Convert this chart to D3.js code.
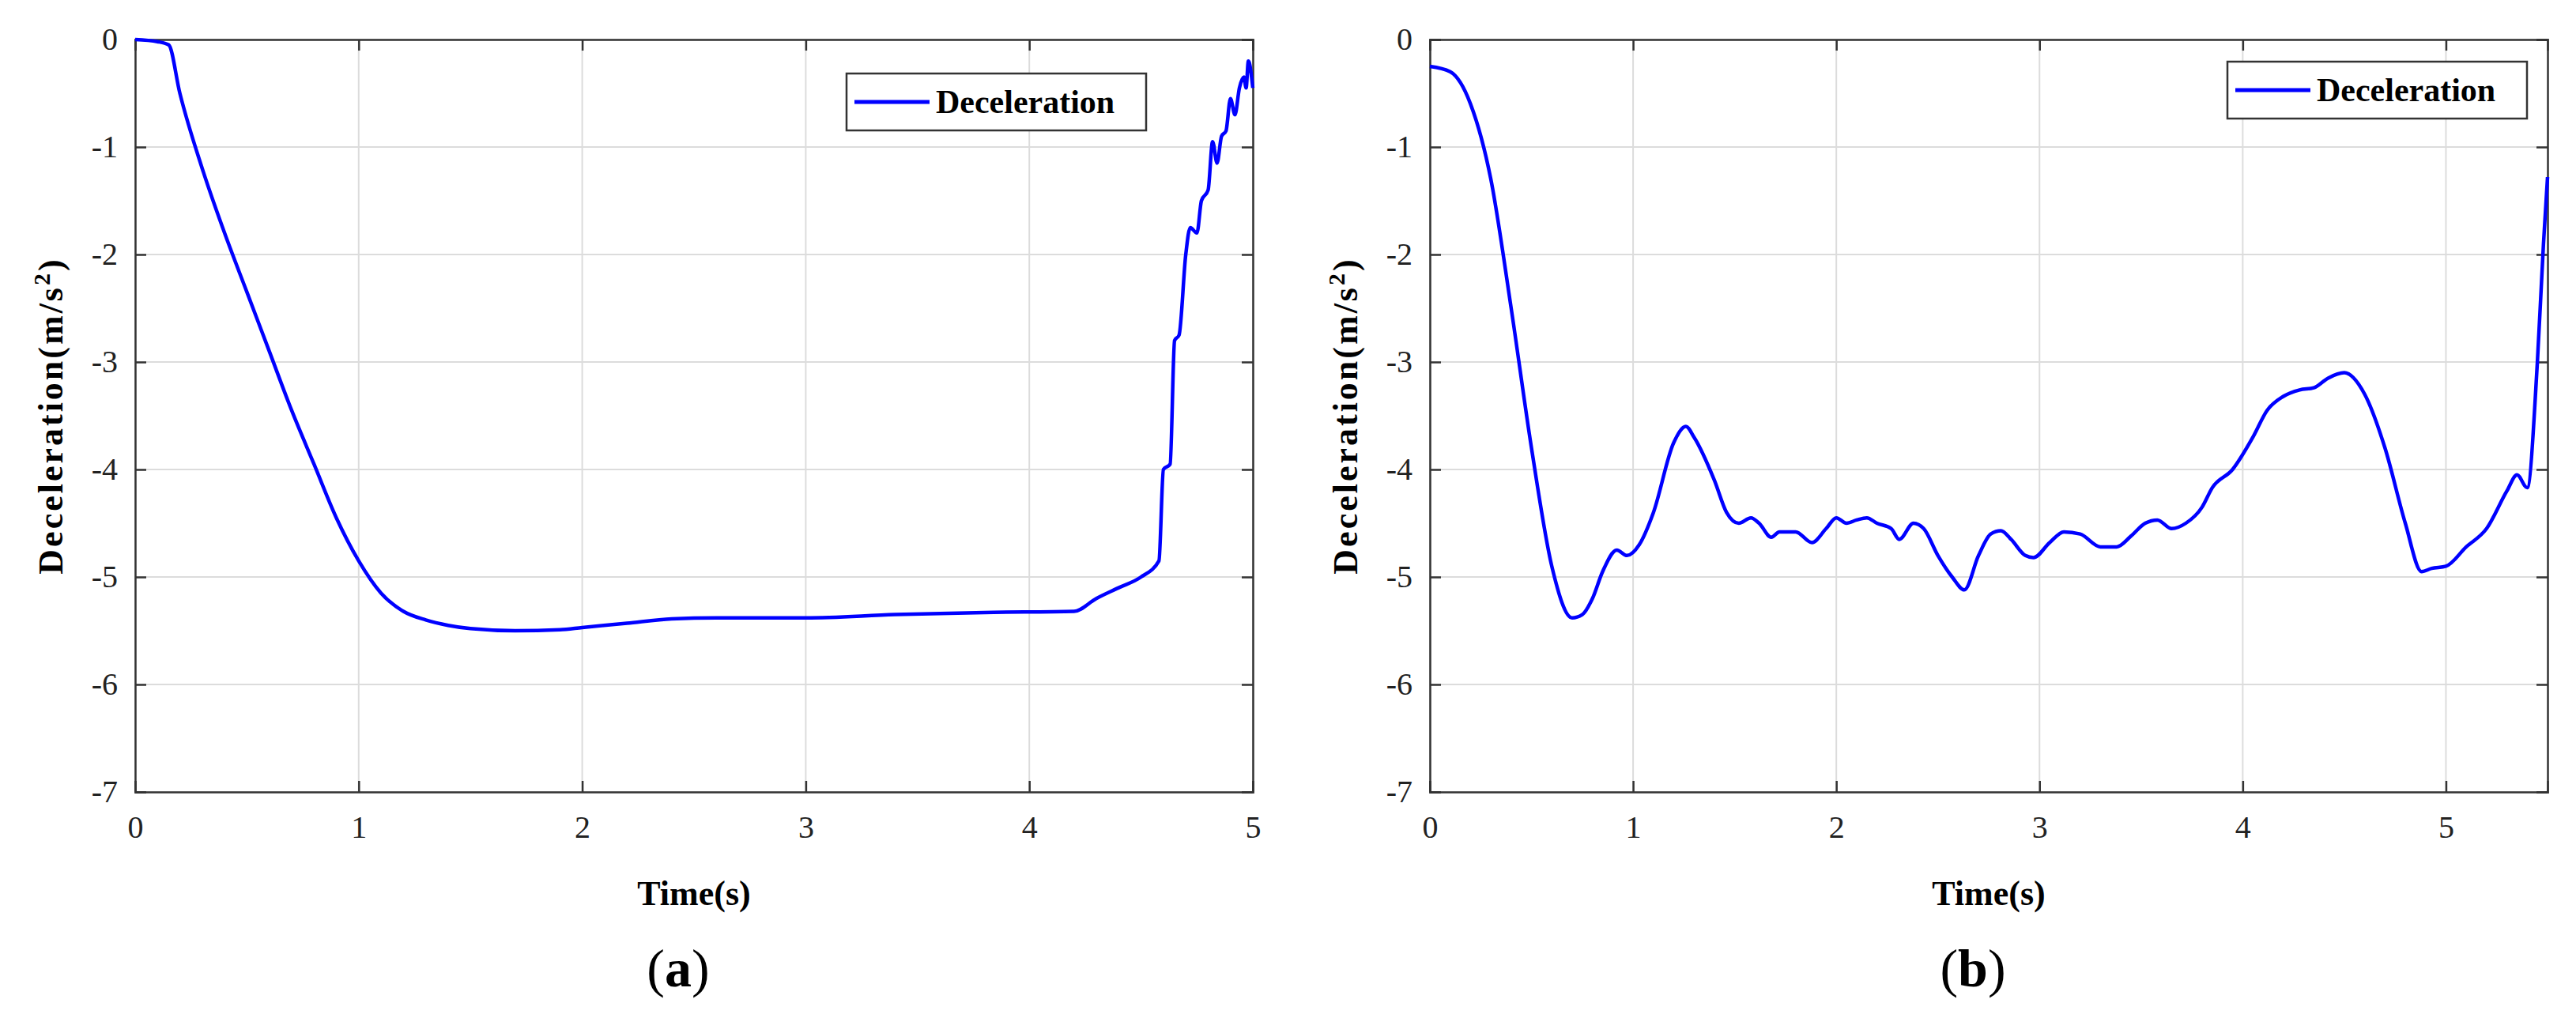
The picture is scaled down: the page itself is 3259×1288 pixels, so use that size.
<!DOCTYPE html>
<html><head><meta charset="utf-8">
<script src="https://cdn.jsdelivr.net/npm/d3@7"></script>
<style>body{margin:0;background:#fff}svg{display:block}</style>
</head><body><div id="chart"></div>
<script>
const timeA = [0,0.1,0.15,0.2,0.3,0.4,0.5,0.6,0.7,0.8,0.9,1.0,1.1,1.2,1.3,1.4,1.5,1.7,1.9,2.0,2.2,2.4,2.6,3.0,3.4,3.8,4.2,4.3,4.4,4.5,4.58,4.6,4.63,4.65,4.67,4.7,4.72,4.75,4.77,4.8,4.82,4.84,4.86,4.88,4.9,4.92,4.94,4.96,4.97,4.98,5.0];
const decelA = [0,-0.02,-0.05,-0.5,-1.2,-1.8,-2.35,-2.9,-3.45,-3.95,-4.45,-4.85,-5.15,-5.32,-5.4,-5.45,-5.48,-5.5,-5.49,-5.47,-5.43,-5.39,-5.38,-5.38,-5.35,-5.33,-5.32,-5.2,-5.1,-5.0,-4.85,-4.0,-3.95,-2.8,-2.75,-2.0,-1.75,-1.8,-1.5,-1.4,-0.95,-1.15,-0.9,-0.85,-0.55,-0.7,-0.45,-0.35,-0.45,-0.2,-0.45];
const timeB = [0,0.1,0.2,0.3,0.4,0.5,0.6,0.7,0.75,0.8,0.85,0.92,0.97,1.03,1.1,1.2,1.26,1.3,1.4,1.46,1.52,1.58,1.62,1.68,1.72,1.8,1.88,1.95,2.0,2.05,2.1,2.15,2.2,2.27,2.31,2.38,2.43,2.5,2.57,2.63,2.7,2.76,2.81,2.86,2.93,2.97,3.05,3.12,3.2,3.3,3.38,3.45,3.52,3.58,3.65,3.72,3.8,3.85,3.95,4.05,4.12,4.2,4.28,4.35,4.42,4.5,4.6,4.7,4.8,4.88,4.93,5.0,5.1,5.2,5.3,5.35,5.4,5.45,5.48,5.5];
const decelB = [-0.25,-0.3,-0.6,-1.3,-2.5,-3.8,-4.9,-5.38,-5.35,-5.2,-4.95,-4.75,-4.8,-4.7,-4.4,-3.75,-3.6,-3.7,-4.1,-4.4,-4.5,-4.45,-4.5,-4.63,-4.58,-4.58,-4.68,-4.55,-4.45,-4.5,-4.47,-4.45,-4.5,-4.55,-4.65,-4.5,-4.55,-4.8,-5.0,-5.12,-4.8,-4.6,-4.57,-4.65,-4.8,-4.82,-4.68,-4.58,-4.6,-4.72,-4.72,-4.62,-4.5,-4.47,-4.55,-4.5,-4.35,-4.17,-4.0,-3.7,-3.45,-3.32,-3.26,-3.24,-3.15,-3.1,-3.3,-3.8,-4.5,-4.95,-4.92,-4.9,-4.72,-4.55,-4.2,-4.05,-4.17,-3.0,-1.9,-1.28];
const yTicks = [0,-1,-2,-3,-4,-5,-6,-7];
const xTicksA = [0,1,2,3,4,5];
const xTicksB = [0,1,2,3,4,5];

const W = 3259, H = 1288;
const svg = d3.select("#chart").append("svg").attr("width", W).attr("height", H);
const fmt = d => String(d);

function panel(t, v, xMax, xTicks, left, right, tag, legend, curve) {
    const top = 50, bottom = 1002;
    const x = d3.scaleLinear().domain([0, xMax]).range([left, right]);
    const y = d3.scaleLinear().domain([-7, 0]).range([bottom, top]);
    const g = svg.append("g");

    g.selectAll(".gx").data(xTicks).enter().append("line")
        .attr("x1", d => x(d)).attr("x2", d => x(d)).attr("y1", top).attr("y2", bottom)
        .attr("stroke", "#dcdcdc").attr("stroke-width", 2);
    g.selectAll(".gy").data(yTicks).enter().append("line")
        .attr("x1", left).attr("x2", right).attr("y1", d => y(d)).attr("y2", d => y(d))
        .attr("stroke", "#dcdcdc").attr("stroke-width", 2);

    const xa = g.append("g").attr("transform", `translate(0,${bottom})`)
        .call(d3.axisBottom(x).tickValues(xTicks).tickSize(-14).tickPadding(30).tickFormat(fmt));
    const xt = g.append("g").attr("transform", `translate(0,${top})`)
        .call(d3.axisTop(x).tickValues(xTicks).tickSize(-14).tickFormat(""));
    const ya = g.append("g").attr("transform", `translate(${left},0)`)
        .call(d3.axisLeft(y).tickValues(yTicks).tickSize(-14).tickPadding(22).tickFormat(fmt));
    const yr = g.append("g").attr("transform", `translate(${right},0)`)
        .call(d3.axisRight(y).tickValues(yTicks).tickSize(-14).tickFormat(""));
    [xa, xt, ya, yr].forEach(a => {
        a.selectAll("path,line").attr("stroke", "#333").attr("stroke-width", 2.5);
        a.selectAll("text").attr("font-family", "Liberation Serif").attr("font-size", 40).attr("fill", "#222");
    });

    g.append("path").datum(t.map((d, i) => [d, v[i]]))
        .attr("d", d3.line().x(d => x(d[0])).y(d => y(d[1])).curve(curve))
        .attr("fill", "none").attr("stroke", "#0000ff").attr("stroke-width", 4.5);

    g.append("text").attr("x", (left + right) / 2).attr("y", 1145).attr("text-anchor", "middle")
        .attr("font-family", "Liberation Serif").attr("font-weight", "bold").attr("font-size", 44)
        .text("Time(s)");
    const yl = g.append("text").attr("transform", `translate(${left - 92},${(top + bottom) / 2}) rotate(-90)`)
        .attr("text-anchor", "middle").attr("font-family", "Liberation Serif").attr("font-weight", "bold")
        .attr("font-size", 44).attr("letter-spacing", 3);
    yl.append("tspan").text("Deceleration(m/s");
    yl.append("tspan").attr("baseline-shift", "super").attr("font-size", 30).text("2");
    yl.append("tspan").text(")");
    const tg = g.append("text").attr("x", (left + right) / 2 - 20).attr("y", 1248).attr("text-anchor", "middle")
        .attr("font-family", "Liberation Serif").attr("font-size", 68);
    tg.append("tspan").text("(");
    tg.append("tspan").attr("font-weight", "bold").text(tag);
    tg.append("tspan").text(")");

    const lg = g.append("g");
    lg.append("rect").attr("x", legend[0]).attr("y", legend[1]).attr("width", legend[2]).attr("height", 72)
        .attr("fill", "#fff").attr("stroke", "#333").attr("stroke-width", 2.5);
    lg.append("line").attr("x1", legend[0] + 10).attr("x2", legend[0] + 105)
        .attr("y1", legend[1] + 36).attr("y2", legend[1] + 36).attr("stroke", "#0000ff").attr("stroke-width", 5);
    lg.append("text").attr("x", legend[0] + 113).attr("y", legend[1] + 50)
        .attr("font-family", "Liberation Serif").attr("font-weight", "bold").attr("font-size", 42)
        .text("Deceleration");
}

panel(timeA, decelA, 5, xTicksA, 171, 1585, "a", [1071, 93, 379], d3.curveMonotoneX);
panel(timeB, decelB, 5.5, xTicksB, 1809, 3223, "b", [2818, 78, 379], d3.curveMonotoneX);
</script></body></html>
